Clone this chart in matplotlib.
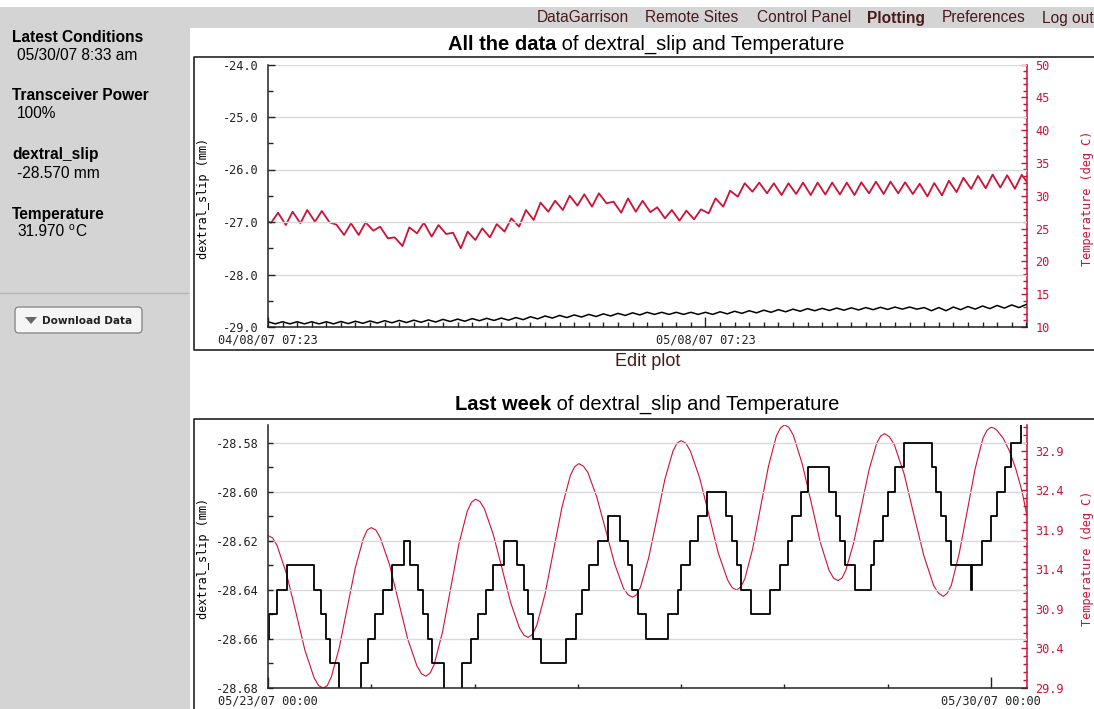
import numpy as np
import matplotlib.pyplot as plt
from matplotlib.patches import Rectangle, FancyBboxPatch, Polygon

W, H = 1094, 709
RED = '#cc1236'
MAROON = '#4a1a1a'
GRAY = '#d4d4d4'
MONO = 'DejaVu Sans Mono'

plt.rcParams['font.family'] = ['Liberation Sans', 'DejaVu Sans']

# ---- All the data (days since 04/08/07 07:23) ----
temp_start = 26.05
temp_end = 32.08
temp_trough = [25.9, 25.54, 25.8, 26.05, 25.95, 24.02, 24.02, 24.68, 23.51, 22.34,
               24.27, 23.77, 24.17, 21.99, 23.26, 23.66, 24.53, 25.29, 26.31, 27.57,
               27.83, 28.49, 28.34, 28.84, 27.42, 27.57, 27.5, 26.56, 26.2, 26.41,
               27.32, 28.34, 29.86, 30.62, 30.37, 30.11, 30.27, 30.11, 30.2, 30.2,
               30.11, 30.37, 30.27, 30.37, 30.27, 29.9, 30.05, 30.55, 31.05, 31.14,
               31.26, 31.06]
temp_peak = [27.42, 27.57, 27.83, 27.68, 25.6, 25.8, 25.95, 25.29, 23.66, 25.19,
             25.9, 25.54, 24.37, 24.53, 25.04, 25.69, 26.56, 27.83, 28.95, 29.24,
             30.01, 30.22, 30.37, 29.1, 29.6, 29.24, 28.24, 27.83, 27.73, 27.93,
             29.6, 30.77, 31.9, 32.0, 31.9, 31.9, 32.0, 32.0, 32.0, 32.0,
             32.05, 32.15, 32.15, 32.05, 31.83, 31.93, 32.29, 32.74, 33.03, 33.23,
             33.12, 33.2]
slip_max = [-28.90, -28.90, -28.90, -28.90, -28.90, -28.895, -28.89, -28.885, -28.88, -28.875,
            -28.87, -28.865, -28.855, -28.85, -28.84, -28.835, -28.83, -28.82, -28.805, -28.79,
            -28.78, -28.77, -28.76, -28.75, -28.74, -28.73, -28.72, -28.72, -28.72, -28.72,
            -28.72, -28.71, -28.70, -28.69, -28.68, -28.67, -28.66, -28.65, -28.645, -28.64,
            -28.635, -28.63, -28.625, -28.62, -28.62, -28.63, -28.63, -28.62, -28.61, -28.60,
            -28.59, -28.58, -28.57]
slip_min = [-28.94, -28.94, -28.94, -28.94, -28.94, -28.935, -28.93, -28.925, -28.92, -28.915,
            -28.91, -28.905, -28.895, -28.89, -28.88, -28.875, -28.87, -28.86, -28.845, -28.83,
            -28.82, -28.81, -28.80, -28.79, -28.78, -28.77, -28.76, -28.76, -28.76, -28.76,
            -28.76, -28.75, -28.74, -28.73, -28.72, -28.71, -28.70, -28.69, -28.685, -28.68,
            -28.675, -28.67, -28.665, -28.66, -28.66, -28.69, -28.69, -28.67, -28.66, -28.65,
            -28.64, -28.63]
all_span = 52.05
all_xticks = [0, 30]
all_xlabels = ['04/08/07 07:23', '05/08/07 07:23']
all_slip_ticks = [-29.0, -28.0, -27.0, -26.0, -25.0, -24.0]
all_temp_ticks = [10, 15, 20, 25, 30, 35, 40, 45, 50]

# ---- Last week (days since 05/23/07 00:00) ----
week_temp_t = [0.0, 0.045, 0.089, 0.178, 0.268, 0.357, 0.446, 0.490,
               0.535, 0.574, 0.613, 0.690, 0.768, 0.845, 0.923, 0.961,
               1.00, 1.044, 1.088, 1.177, 1.265, 1.353, 1.442, 1.486,
               1.53, 1.57, 1.61, 1.69, 1.77, 1.85, 1.93, 1.97,
               2.01, 2.052, 2.095, 2.18, 2.265, 2.35, 2.435, 2.478,
               2.52, 2.561, 2.602, 2.683, 2.765, 2.847, 2.928, 2.969,
               3.01, 3.053, 3.097, 3.183, 3.27, 3.357, 3.443, 3.487,
               3.53, 3.569, 3.608, 3.687, 3.765, 3.843, 3.922, 3.961,
               4.00, 4.045, 4.09, 4.18, 4.27, 4.36, 4.45, 4.495,
               4.54, 4.578, 4.617, 4.693, 4.77, 4.847, 4.923, 4.962,
               5.00, 5.043, 5.087, 5.173, 5.26, 5.347, 5.433, 5.477,
               5.52, 5.558, 5.595, 5.67, 5.745, 5.82, 5.895, 5.933,
               5.97, 6.018, 6.065, 6.16, 6.255, 6.35, 6.445, 6.493,
               6.54, 6.578, 6.617, 6.693, 6.77, 6.847, 6.923, 6.962,
               7.00, 7.03, 7.06, 7.12, 7.18, 7.24, 7.30, 7.35]
week_temp_v = [31.83, 31.80, 31.70, 31.35, 30.87, 30.38, 30.03, 29.93,
               29.90, 29.93, 30.04, 30.41, 30.92, 31.42, 31.79, 31.90,
               31.93, 31.90, 31.80, 31.46, 30.99, 30.52, 30.18, 30.08,
               30.05, 30.09, 30.20, 30.61, 31.17, 31.73, 32.14, 32.25,
               32.29, 32.26, 32.17, 31.85, 31.42, 30.98, 30.66, 30.57,
               30.54, 30.58, 30.69, 31.09, 31.64, 32.19, 32.59, 32.70,
               32.74, 32.71, 32.63, 32.32, 31.90, 31.47, 31.16, 31.08,
               31.05, 31.08, 31.18, 31.55, 32.04, 32.54, 32.90, 33.00,
               33.03, 33.00, 32.90, 32.56, 32.09, 31.61, 31.27, 31.17,
               31.14, 31.18, 31.28, 31.66, 32.19, 32.71, 33.09, 33.19,
               33.23, 33.20, 33.10, 32.74, 32.25, 31.75, 31.39, 31.29,
               31.26, 31.29, 31.39, 31.73, 32.19, 32.66, 33.00, 33.09,
               33.12, 33.08, 32.98, 32.61, 32.09, 31.58, 31.20, 31.10,
               31.06, 31.10, 31.20, 31.60, 32.13, 32.67, 33.06, 33.16,
               33.20, 33.19, 33.16, 33.06, 32.90, 32.68, 32.40, 32.08]
week_slip_t = [0.000, 0.010, 0.084, 0.181, 0.449, 0.513, 0.558, 0.603, 0.687, 0.900,
               0.965, 1.036, 1.116, 1.197, 1.320, 1.375, 1.455, 1.504, 1.552, 1.584,
               1.707, 1.875, 1.965, 2.030, 2.107, 2.181, 2.288, 2.407, 2.481, 2.520,
               2.568, 2.643, 2.882, 2.982, 3.036, 3.107, 3.198, 3.294, 3.408, 3.482,
               3.521, 3.579, 3.659, 3.875, 3.972, 3.998, 4.085, 4.166, 4.247, 4.434,
               4.495, 4.537, 4.576, 4.676, 4.866, 4.956, 5.031, 5.070, 5.166, 5.231,
               5.434, 5.505, 5.537, 5.586, 5.689, 5.844, 5.870, 5.957, 6.005, 6.076,
               6.160, 6.434, 6.473, 6.522, 6.563, 6.618, 6.812, 6.822, 6.918, 7.005,
               7.064, 7.135, 7.199, 7.289, 7.350]
week_slip_v = [-28.66, -28.65, -28.64, -28.63, -28.64, -28.65, -28.66, -28.67, -28.69, -28.67,
               -28.66, -28.65, -28.64, -28.63, -28.62, -28.63, -28.64, -28.65, -28.66, -28.67,
               -28.69, -28.67, -28.66, -28.65, -28.64, -28.63, -28.62, -28.63, -28.64, -28.65,
               -28.66, -28.67, -28.66, -28.65, -28.64, -28.63, -28.62, -28.61, -28.62, -28.63,
               -28.64, -28.65, -28.66, -28.65, -28.64, -28.63, -28.62, -28.61, -28.60, -28.61,
               -28.62, -28.63, -28.64, -28.65, -28.64, -28.63, -28.62, -28.61, -28.60, -28.59,
               -28.60, -28.61, -28.62, -28.63, -28.64, -28.63, -28.62, -28.61, -28.60, -28.59,
               -28.58, -28.59, -28.60, -28.61, -28.62, -28.63, -28.64, -28.63, -28.62, -28.61,
               -28.60, -28.59, -28.58, -28.57, -28.57]
week_span = 7.35
week_xlabels = ['05/23/07 00:00', '05/30/07 00:00']
week_slip_ticks = [-28.68, -28.66, -28.64, -28.62, -28.60, -28.58]
week_temp_ticks = [29.9, 30.4, 30.9, 31.4, 31.9, 32.4, 32.9]

nav_items = ['DataGarrison', 'Remote Sites', 'Control Panel', 'Plotting', 'Preferences', 'Log out']
nav_x = [537, 645, 757, 867, 942, 1042]
side_heads = ['Latest Conditions', 'Transceiver Power', 'dextral_slip', 'Temperature']
side_vals = ['05/30/07 8:33 am', '100%', '-28.570 mm', '31.970']


def box(x0, y0, x1, y1):
    return [x0 / W, 1 - y1 / H, (x1 - x0) / W, (y1 - y0) / H]


fig = plt.figure(figsize=(W / 100, H / 100), dpi=100, facecolor='white')
bg = fig.add_axes([0, 0, 1, 1])
bg.set_xlim(0, W)
bg.set_ylim(H, 0)
bg.axis('off')
bg.set_zorder(0)

# page chrome
bg.add_patch(Rectangle((0, 7), 190, H - 7, color=GRAY, lw=0))
bg.add_patch(Rectangle((0, 7), W, 21, color=GRAY, lw=0))
bg.plot([0, 188], [293, 293], color='#b5b5b5', lw=1)
for x, s in zip(nav_x, nav_items):
    bg.text(x, 18, s, fontsize=11.2, color=MAROON, va='center',
            fontweight='bold' if s == 'Plotting' else 'normal')

for i, (hd, v) in enumerate(zip(side_heads, side_vals)):
    y = 37 + 59 * i
    bg.text(12, y, hd, fontsize=11.2, fontweight='bold', va='center')
    bg.text(17, y + 18, v, fontsize=11.2, va='center')
bg.text(68.5, 227.5, 'o', fontsize=7.5, va='center')
bg.text(75, 232, 'C', fontsize=11.2, va='center')

bg.add_patch(FancyBboxPatch((15, 307), 127, 26, boxstyle='round,pad=0,rounding_size=4',
                            fc='#f5f5f5', ec='#8a8a8a', lw=1))
bg.add_patch(Polygon([(25, 317), (37, 317), (31, 324)], closed=True, fc='#666666', ec='none'))
bg.text(42, 320.5, 'Download Data', fontsize=7.6, fontweight='bold', family='DejaVu Sans',
        va='center', color='#222222')

# chart frames
bg.plot([W + 5, 194, 194, W + 5], [57, 57, 350, 350], color='#222222', lw=1.2)
bg.plot([W + 5, 194, 194], [419, 419, H + 5], color='#222222', lw=1.2)

# titles
for y, bold, x0 in [(44, 'All the data', 448), (405, 'Last week', 455)]:
    t1 = bg.text(x0, y, bold, fontsize=14.5, fontweight='bold', va='center')
    bg.annotate(' of dextral_slip and Temperature', xy=(1, 0), xycoords=t1,
                fontsize=14.5, va='bottom')
bg.text(648, 361, 'Edit plot', fontsize=13, color=MAROON, ha='center', va='center')

# axis labels
for yc in (198, 558):
    bg.text(204, yc, 'dextral_slip (mm)', family=MONO, fontsize=8.6, rotation=90,
            ha='center', va='center')
    bg.text(1087, yc, 'Temperature (deg C)', family=MONO, fontsize=8.6, rotation=90,
            ha='center', va='center', color=RED)


def style(ax, axt):
    ax.set_zorder(3)
    axt.set_zorder(2)
    ax.patch.set_visible(False)
    for s in ('top', 'right'):
        ax.spines[s].set_visible(False)
    for s in ('top', 'left', 'bottom'):
        axt.spines[s].set_visible(False)
    ax.spines['left'].set_color('#222222')
    ax.spines['bottom'].set_color('#222222')
    ax.spines['left'].set_linewidth(1.1)
    ax.spines['bottom'].set_linewidth(1.1)
    axt.spines['right'].set_color(RED)
    axt.spines['right'].set_linewidth(1.1)
    ax.yaxis.grid(True, which='major', color='#d9d9d9', lw=1)
    ax.tick_params(axis='both', which='both', direction='in', width=1, colors='#222222',
                   labelsize=8.6, labelfontfamily=MONO)
    ax.tick_params(axis='y', which='both', pad=7)
    ax.tick_params(axis='x', which='both', pad=5)
    axt.tick_params(axis='y', which='both', direction='in', width=1, color=RED,
                    labelcolor=RED, labelsize=8.6, labelfontfamily=MONO, pad=6)
    axt.tick_params(axis='y', which='major', length=4)
    axt.tick_params(axis='y', which='minor', length=3)


# ---- upper chart ----
ax1 = fig.add_axes(box(268, 64.5, 1027, 327))
ax1t = ax1.twinx()
style(ax1, ax1t)

tt = np.concatenate([[0.0], np.arange(len(temp_trough)) + 0.22,
                     np.arange(len(temp_peak)) + 0.69, [all_span]])
tv = np.concatenate([[temp_start], temp_trough, temp_peak, [temp_end]])
o = np.argsort(tt)
ax1t.plot(tt[o], tv[o], color=RED, lw=1.3, solid_joinstyle='round')

st = np.concatenate([np.arange(len(slip_max)), np.arange(len(slip_min)) + 0.5, [all_span]])
sv = np.concatenate([slip_max, slip_min, [slip_max[-1]]])
o = np.argsort(st)
ax1.plot(st[o], sv[o], color='black', lw=1.1)

ax1.set_xlim(0, all_span)
ax1.set_ylim(-29, -24)
ax1t.set_ylim(10, 50)
ax1.set_yticks(all_slip_ticks)
ax1.set_yticklabels([f'{v:.1f}' for v in all_slip_ticks])
ax1.set_yticks([v + 0.5 for v in all_slip_ticks[:-1]], minor=True)
ax1.tick_params(axis='y', which='major', length=5)
ax1.tick_params(axis='y', which='minor', length=3.5)
ax1.set_xticks(all_xticks)
ax1.set_xticklabels(all_xlabels)
ax1.set_xticks(range(1, 53), minor=True)
ax1.tick_params(axis='x', which='major', length=7.5)
ax1.tick_params(axis='x', which='minor', length=3.5)
ax1t.set_yticks(all_temp_ticks)
ax1t.set_yticklabels([str(v) for v in all_temp_ticks])
ax1t.set_yticks(range(10, 51), minor=True)

# ---- lower chart ----
ax2 = fig.add_axes(box(268, 425, 1027, 688))
ax2t = ax2.twinx()
style(ax2, ax2t)

ax2t.plot(week_temp_t, week_temp_v, color=RED, lw=0.8, solid_joinstyle='round')
ax2.plot(week_slip_t, week_slip_v, color='black', lw=1.3, drawstyle='steps-post')

ax2.set_xlim(0, week_span)
ax2.set_ylim(-28.68, -28.5727)
ax2t.set_ylim(29.9, 33.229)
ax2.set_yticks(week_slip_ticks)
ax2.set_yticklabels([f'{v:.2f}' for v in week_slip_ticks])
ax2.set_yticks([v + 0.01 for v in week_slip_ticks[:-1]], minor=True)
ax2.tick_params(axis='y', which='both', length=3.6)
ax2.set_xticks([0, 7])
ax2.set_xticklabels(week_xlabels)
ax2.set_xticks(range(1, 7), minor=True)
ax2.tick_params(axis='x', which='major', length=8)
ax2.tick_params(axis='x', which='minor', length=3)
ax2t.set_yticks(week_temp_ticks)
ax2t.set_yticklabels([f'{v:.1f}' for v in week_temp_ticks])
ax2t.set_yticks([round(30.0 + 0.1 * i, 1) for i in range(33)], minor=True)

fig.savefig('out.png', dpi=100)
